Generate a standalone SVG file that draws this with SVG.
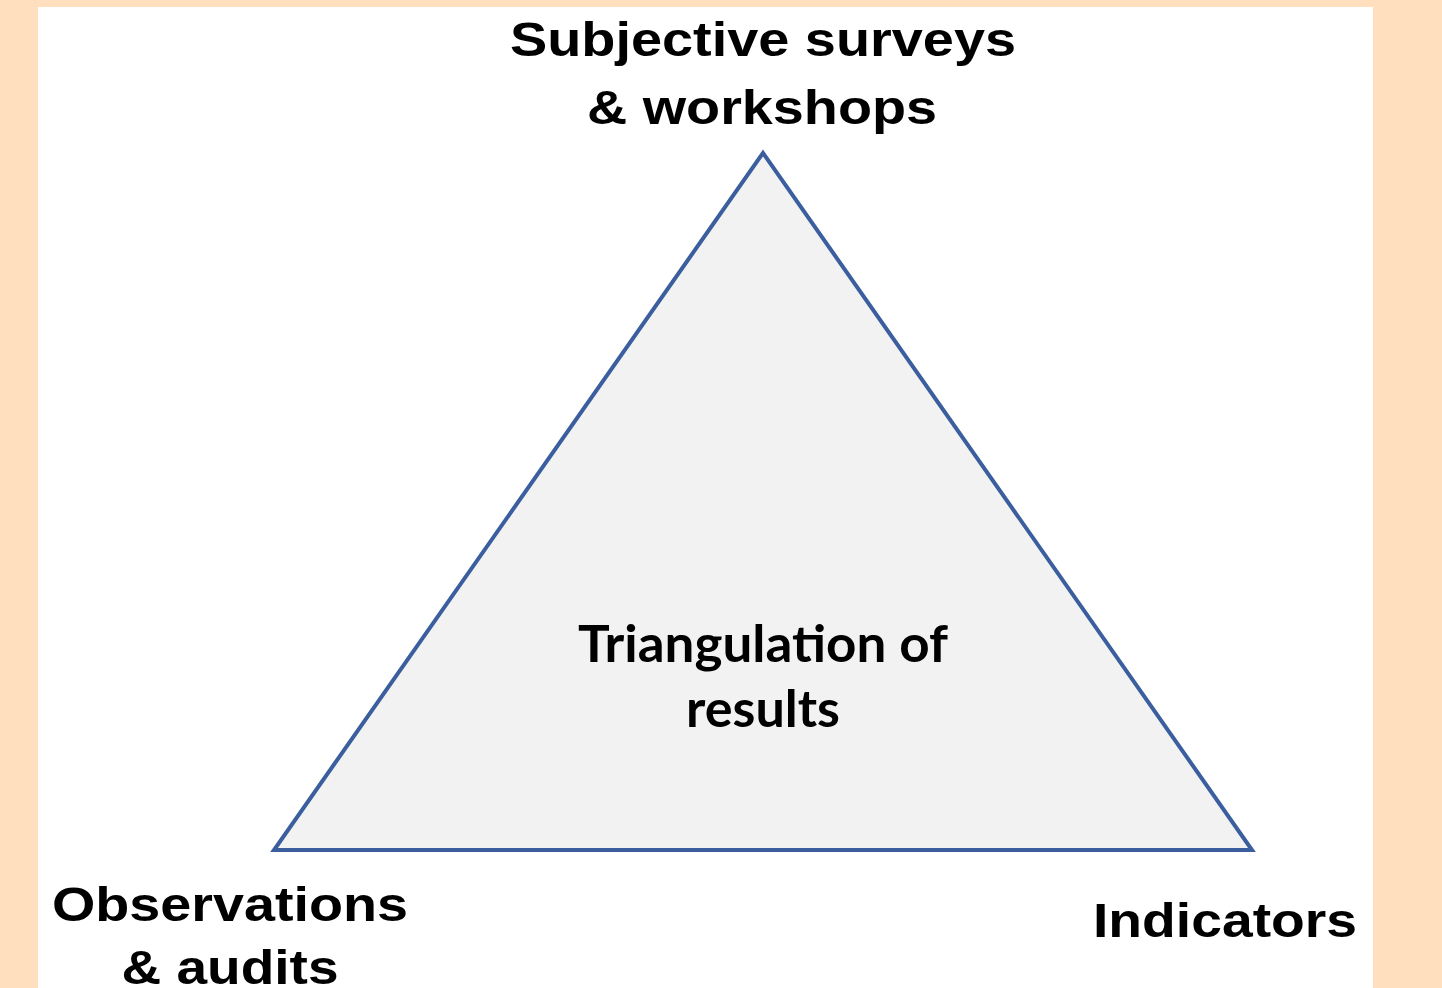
<svg xmlns="http://www.w3.org/2000/svg" width="1442" height="988" viewBox="0 0 1442 988">
  <style>
    .label { font-family: "Liberation Sans", Arial, sans-serif; font-weight: bold; font-size: 49px; fill: #000; }
    .center { font-family: Lato, "Open Sans", sans-serif; font-weight: bold; font-size: 52px; fill: #000; }
  </style>
  <!-- page background and white panel -->
  <rect x="0" y="0" width="1442" height="988" fill="#FFDFBE"/>
  <rect x="38" y="7" width="1335" height="981" fill="#FFFFFF"/>

  <!-- central triangle -->
  <g id="triangle">
    <polygon points="763,153 274,850 1252,850" fill="#F2F2F2" stroke="#3A5E9E" stroke-width="4" stroke-linejoin="miter"/>
    <text class="center" text-anchor="middle" x="763" y="662" textLength="370" lengthAdjust="spacingAndGlyphs">Triangulation of</text>
    <text class="center" text-anchor="middle" x="763" y="727" textLength="154" lengthAdjust="spacingAndGlyphs">results</text>
  </g>

  <!-- corner labels -->
  <g id="top-label">
    <text class="label" text-anchor="middle" x="763" y="56" textLength="506" lengthAdjust="spacingAndGlyphs">Subjective surveys</text>
    <text class="label" text-anchor="middle" x="762" y="124" textLength="350" lengthAdjust="spacingAndGlyphs">&amp; workshops</text>
  </g>
  <g id="left-label">
    <text class="label" text-anchor="middle" x="230" y="921" textLength="356" lengthAdjust="spacingAndGlyphs">Observations</text>
    <text class="label" text-anchor="middle" x="230" y="984" textLength="217" lengthAdjust="spacingAndGlyphs">&amp; audits</text>
  </g>
  <g id="right-label">
    <text class="label" text-anchor="middle" x="1225" y="937" textLength="264" lengthAdjust="spacingAndGlyphs">Indicators</text>
  </g>

  <g id="connectors"></g>
</svg>
